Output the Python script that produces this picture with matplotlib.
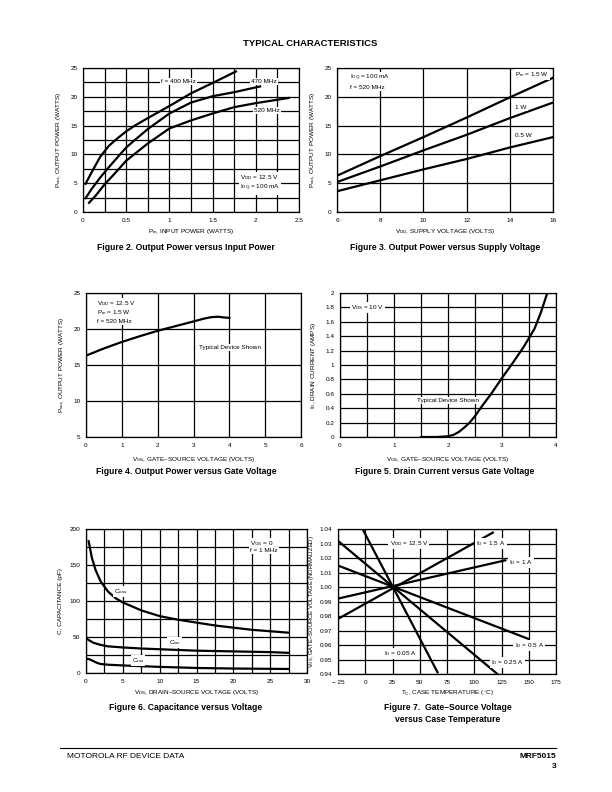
#!/usr/bin/env python

import numpy as np
import matplotlib as mpl
mpl.use('Agg')
import matplotlib.pyplot as plt

plt.rcParams['font.family'] = ['Liberation Sans', 'DejaVu Sans']
plt.rcParams['mathtext.fontset'] = 'custom'
plt.rcParams['mathtext.rm'] = 'Liberation Sans'
plt.rcParams['mathtext.it'] = 'Liberation Sans:italic'
plt.rcParams['mathtext.bf'] = 'Liberation Sans:bold'

# ---- Figure 2: output power vs input power
pin_400 = [0.03, 0.1, 0.2, 0.3, 0.4, 0.5, 0.6, 0.75, 1.0, 1.25, 1.5, 1.77]
pout_400 = [4.9, 6.9, 9.6, 11.5, 12.8, 14.0, 15.0, 16.3, 18.4, 20.6, 22.4, 24.4]
pin_470 = [0.03, 0.1, 0.2, 0.3, 0.4, 0.5, 0.6, 0.75, 1.0, 1.25, 1.5, 1.75, 2.05]
pout_470 = [2.4, 4.0, 6.0, 7.8, 9.5, 11.2, 12.5, 14.4, 17.1, 19.0, 20.1, 20.8, 21.8]
pin_520 = [0.07, 0.15, 0.25, 0.35, 0.5, 0.6, 0.75, 1.0, 1.25, 1.5, 1.75, 2.0, 2.38]
pout_520 = [1.6, 2.9, 4.8, 6.4, 8.9, 10.1, 11.9, 14.5, 15.9, 17.1, 18.2, 18.9, 19.8]
fig2_xticks = [0, 0.25, 0.5, 0.75, 1, 1.25, 1.5, 1.75, 2, 2.25, 2.5]
fig2_xlabels = ['0', '', '0.5', '', '1', '', '1.5', '', '2', '', '2.5']
fig2_yticks = [0, 2.5, 5, 7.5, 10, 12.5, 15, 17.5, 20, 22.5, 25]
fig2_ylabels = ['0', '', '5', '', '10', '', '15', '', '20', '', '25']

# ---- Figure 3: output power vs supply voltage
vdd = [6, 8, 10, 12, 14, 16]
pout_15w = [6.3, 9.7, 13.0, 16.4, 19.9, 23.3]
pout_1w = [5.2, 7.9, 10.7, 13.4, 16.3, 19.0]
pout_05w = [3.6, 5.5, 7.4, 9.2, 11.2, 13.0]
fig3_xticks = [6, 8, 10, 12, 14, 16]
fig3_yticks = [0, 5, 10, 15, 20, 25]

# ---- Figure 4: output power vs gate voltage
vgs_4 = [0, 0.5, 1, 1.5, 2, 2.5, 3, 3.3, 3.5, 3.7, 3.85, 4.0]
pout_4 = [16.3, 17.3, 18.2, 19.0, 19.75, 20.4, 21.05, 21.45, 21.65, 21.7, 21.6, 21.55]
fig4_xticks = [0, 1, 2, 3, 4, 5, 6]
fig4_yticks = [5, 10, 15, 20, 25]

# ---- Figure 5: drain current vs gate voltage
vgs_5 = [1.5, 1.8, 2.0, 2.1, 2.2, 2.3, 2.4, 2.5, 2.65, 2.8, 3.0, 3.2, 3.4, 3.6, 3.72, 3.83]
id_5 = [0, 0, 0.01, 0.03, 0.07, 0.13, 0.2, 0.29, 0.45, 0.6, 0.82, 1.03, 1.25, 1.5, 1.73, 1.98]
fig5_xticks = [0, 0.5, 1, 1.5, 2, 2.5, 3, 3.5, 4]
fig5_xlabels = ['0', '', '1', '', '2', '', '3', '', '4']
fig5_yticks = [0, 0.2, 0.4, 0.6, 0.8, 1, 1.2, 1.4, 1.6, 1.8, 2]
fig5_ylabels = ['0', '0.2', '0.4', '0.6', '0.8', '1', '1.2', '1.4', '1.6', '1.8', '2']

# ---- Figure 6: capacitance vs voltage
vds_coss = [0.36, 0.8, 1.3, 2.0, 2.5, 3.0, 4.0, 5.0, 7.5, 10, 12.5, 15, 17.5, 20, 22.5, 25, 27.5]
coss = [183, 160, 143, 127, 120, 113, 104, 98, 87, 79, 74, 70, 66, 63, 60, 58, 56]
vds_ciss = [0, 1, 2, 3, 5, 7.5, 10, 15, 20, 25, 27.5]
ciss = [48, 42, 39, 37, 35.5, 34, 33, 31, 30, 29, 28]
vds_crss = [0, 0.5, 1, 1.5, 2, 3, 5, 7.5, 10, 15, 20, 25, 27.5]
crss = [20, 19, 16.5, 14, 12.5, 11.5, 10.5, 9.5, 8.5, 7, 6.2, 5.8, 5.6]
fig6_xticks = [0, 2.5, 5, 7.5, 10, 12.5, 15, 17.5, 20, 22.5, 25, 27.5, 30]
fig6_xlabels = ['0', '', '5', '', '10', '', '15', '', '20', '', '25', '', '30']
fig6_yticks = [0, 25, 50, 75, 100, 125, 150, 175, 200]
fig6_ylabels = ['0', '', '50', '', '100', '', '150', '', '200']

# ---- Figure 7: normalized VGS vs case temperature (start, end of each line)
tc_15a = [-25, 117]
vgs_15a = [0.978, 1.0375]
tc_1a = [-25, 128.5]
vgs_1a = [0.992, 1.0184]
tc_05a = [-25, 149.7]
vgs_05a = [1.0148, 0.9642]
tc_025a = [-25, 120.9]
vgs_025a = [1.0318, 0.9402]
tc_005a = [-2.6, 66.3]
vgs_005a = [1.0402, 0.9412]
fig7_xticks = [-25, 0, 25, 50, 75, 100, 125, 150, 175]
fig7_xlabels = ['\u2212 25', '0', '25', '50', '75', '100', '125', '150', '175']
fig7_yticks = [0.94, 0.95, 0.96, 0.97, 0.98, 0.99, 1.00, 1.01, 1.02, 1.03, 1.04]

W, H = 612, 792
fig = plt.figure(figsize=(W / 100, H / 100), dpi=100)

TICK = 4.6
LAB = 4.6
NOTE = 4.6
LW = 1.6
BOX = dict(facecolor='white', edgecolor='none', pad=0.8)
DASH = '\u2013'


def add_ax(l, t, r, b):
  """Axes from pixel box (left, top, right, bottom)."""
  return fig.add_axes([l / W, 1 - b / H, (r - l) / W, (b - t) / H])


def grid_ax(ax, xlim, ylim, xticks, yticks, xlabels=None, ylabels=None):
  ax.set_xlim(xlim)
  ax.set_ylim(ylim)
  ax.set_xticks(xticks)
  ax.set_yticks(yticks)
  if xlabels is not None:
    ax.set_xticklabels(xlabels)
  if ylabels is not None:
    ax.set_yticklabels(ylabels)
  ax.tick_params(length=0, labelsize=TICK, pad=4)
  ax.grid(True, color='black', lw=0.9)
  ax.set_axisbelow(True)
  for s in ax.spines.values():
    s.set_linewidth(0.9)


def note(ax, x, y, s, ha='left'):
  ax.text(x, y, s, fontsize=NOTE, ha=ha, va='center', bbox=BOX, zorder=5)


def caption(x, y, s):
  fig.text(x / W, 1 - y / H, s, fontsize=6.2, weight='bold', ha='center', va='center')


fig.text(310 / W, 1 - 44 / H, 'TYPICAL CHARACTERISTICS', fontsize=6.8, weight='bold',
         ha='center', va='center')

# Figure 2
ax = add_ax(83, 68, 299, 212)
grid_ax(ax, (0, 2.5), (0, 25), fig2_xticks, fig2_yticks, fig2_xlabels, fig2_ylabels)
ax.plot(pin_400, pout_400, 'k-', lw=LW)
ax.plot(pin_470, pout_470, 'k-', lw=LW)
ax.plot(pin_520, pout_520, 'k-', lw=LW)
note(ax, 0.9, 22.6, 'f = 400 MHz')
note(ax, 1.95, 22.6, '470 MHz')
note(ax, 1.98, 17.6, '520 MHz')
note(ax, 1.82, 5.9, r'V$_{\rm DD}$ = 12.5 V')
note(ax, 1.82, 4.1, r'I$_{\rm DQ}$ = 100 mA')
ax.set_xlabel(r'P$_{\rm in}$, INPUT POWER (WATTS)', fontsize=LAB, labelpad=3)
ax.set_ylabel(r'P$_{\rm out}$, OUTPUT POWER (WATTS)', fontsize=LAB, labelpad=5)
caption(186, 248, 'Figure 2. Output Power versus Input Power')

# Figure 3
ax = add_ax(337, 68, 553, 212)
grid_ax(ax, (6, 16), (0, 25), fig3_xticks, fig3_yticks)
ax.plot(vdd, pout_15w, 'k-', lw=LW)
ax.plot(vdd, pout_1w, 'k-', lw=LW)
ax.plot(vdd, pout_05w, 'k-', lw=LW)
note(ax, 14.25, 23.8, r'P$_{\rm in}$ = 1.5 W')
note(ax, 14.25, 18.1, '1 W')
note(ax, 14.25, 13.3, '0.5 W')
note(ax, 6.6, 23.3, r'I$_{\rm DQ}$ = 100 mA')
note(ax, 6.6, 21.6, 'f = 520 MHz')
ax.set_xlabel(r'V$_{\rm DD}$, SUPPLY VOLTAGE (VOLTS)', fontsize=LAB, labelpad=3)
ax.set_ylabel(r'P$_{\rm out}$, OUTPUT POWER (WATTS)', fontsize=LAB, labelpad=5)
caption(445, 248, 'Figure 3. Output Power versus Supply Voltage')

# Figure 4
ax = add_ax(86, 293, 301, 437)
grid_ax(ax, (0, 6), (5, 25), fig4_xticks, fig4_yticks)
ax.plot(vgs_4, pout_4, 'k-', lw=LW)
note(ax, 0.32, 23.6, r'V$_{\rm DD}$ = 12.5 V')
note(ax, 0.32, 22.3, r'P$_{\rm in}$ = 1.5 W')
note(ax, 0.32, 21.0, 'f = 520 MHz')
note(ax, 3.15, 17.4, 'Typical Device Shown')
ax.set_xlabel(r'V$_{\rm GS}$, GATE' + DASH + 'SOURCE VOLTAGE (VOLTS)', fontsize=LAB, labelpad=5)
ax.set_ylabel(r'P$_{\rm out}$, OUTPUT POWER (WATTS)', fontsize=LAB, labelpad=5)
caption(186, 472, 'Figure 4. Output Power versus Gate Voltage')

# Figure 5
ax = add_ax(340, 293, 556, 437)
grid_ax(ax, (0, 4), (0, 2), fig5_xticks, fig5_yticks, fig5_xlabels, fig5_ylabels)
ax.plot(vgs_5, id_5, 'k-', lw=LW)
note(ax, 0.2, 1.8, r'V$_{\rm DS}$ = 10 V')
note(ax, 1.42, 0.51, 'Typical Device Shown')
ax.set_xlabel(r'V$_{\rm GS}$, GATE' + DASH + 'SOURCE VOLTAGE (VOLTS)', fontsize=LAB, labelpad=5)
ax.set_ylabel(r'I$_{\rm D}$, DRAIN CURRENT (AMPS)', fontsize=LAB, labelpad=5)
caption(445, 472, 'Figure 5. Drain Current versus Gate Voltage')

# Figure 6
ax = add_ax(86, 529, 307, 673)
grid_ax(ax, (0, 30), (0, 200), fig6_xticks, fig6_yticks, fig6_xlabels, fig6_ylabels)
ax.plot(vds_coss, coss, 'k-', lw=LW)
ax.plot(vds_ciss, ciss, 'k-', lw=LW)
ax.plot(vds_crss, crss, 'k-', lw=LW)
note(ax, 3.8, 113, r'C$_{\rm oss}$')
note(ax, 11.2, 42, r'C$_{\rm iss}$')
note(ax, 6.2, 17.7, r'C$_{\rm rss}$')
note(ax, 22.3, 180, r'V$_{\rm GS}$ = 0')
note(ax, 22.3, 170, 'f = 1 MHz')
ax.set_xlabel(r'V$_{\rm DS}$, DRAIN' + DASH + 'SOURCE VOLTAGE (VOLTS)', fontsize=LAB, labelpad=3)
ax.set_ylabel('C, CAPACITANCE (pF)', fontsize=LAB, labelpad=5)
caption(186, 708, 'Figure 6. Capacitance versus Voltage')

# Figure 7
ax = add_ax(338, 529, 556, 674)
grid_ax(ax, (-25, 175), (0.94, 1.04), fig7_xticks, fig7_yticks, fig7_xlabels,
        ['%.2f' % v for v in fig7_yticks])
ax.plot(tc_15a, vgs_15a, 'k-', lw=LW)
ax.plot(tc_1a, vgs_1a, 'k-', lw=LW)
ax.plot(tc_05a, vgs_05a, 'k-', lw=LW)
ax.plot(tc_025a, vgs_025a, 'k-', lw=LW)
ax.plot(tc_005a, vgs_005a, 'k-', lw=LW)
note(ax, 40, 1.030, r'V$_{\rm DD}$ = 12.5 V', ha='center')
note(ax, 102, 1.030, r'I$_{\rm D}$ = 1.5 A')
note(ax, 132, 1.017, r'I$_{\rm D}$ = 1 A')
note(ax, 137, 0.9595, r'I$_{\rm D}$ = 0.5 A')
note(ax, 115, 0.948, r'I$_{\rm D}$ = 0.25 A')
note(ax, 17.3, 0.954, r'I$_{\rm D}$ = 0.05 A')
ax.set_xlabel(r'T$_{\rm C}$, CASE TEMPERATURE ($^{\circ}$C)', fontsize=LAB, labelpad=3)
ax.set_ylabel(r'V$_{\rm GS}$, GATE' + DASH + 'SOURCE VOLTAGE (NORMALIZED)', fontsize=4.2, labelpad=3)
caption(448, 708, 'Figure 7.  Gate' + DASH + 'Source Voltage')
caption(448, 720, 'versus Case Temperature')

# footer
fig.add_artist(plt.Line2D([60 / W, 556 / W], [1 - 748 / H, 1 - 748 / H], color='black', lw=0.8))
fig.text(67 / W, 1 - 757 / H, 'MOTOROLA RF DEVICE DATA', fontsize=6, ha='left', va='center')
fig.text(556 / W, 1 - 757 / H, 'MRF5015', fontsize=6, weight='bold', ha='right', va='center')
fig.text(556 / W, 1 - 766 / H, '3', fontsize=6, weight='bold', ha='right', va='center')

fig.savefig('out.png', dpi=100)
